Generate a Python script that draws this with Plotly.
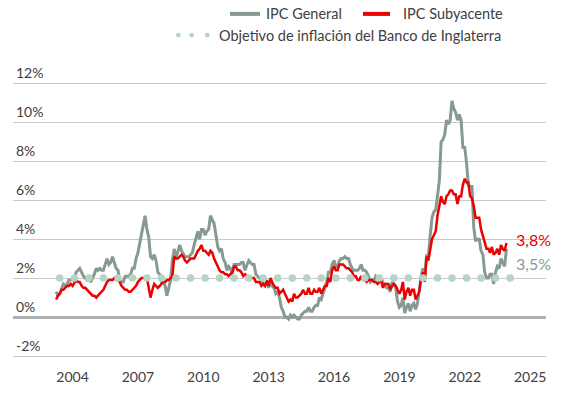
import plotly.graph_objects as go
import pandas as pd

# ---- Data (annual rate, %, monthly) ----
ipc_general = [
    1.3, 1.1, 1.2, 1.5, 1.7,
    1.6, 1.7, 1.9, 1.9, 1.9, 2.0, 2.3, 2.4, 2.5, 2.3, 2.1, 2.0,
    1.9, 2.0, 1.8, 2.0, 2.2, 2.5, 2.4, 2.5, 2.4, 2.4, 2.7, 3.0,
    2.7, 2.8, 3.1, 2.8, 2.5, 2.4, 1.9, 1.8, 1.8, 2.1, 2.1, 2.1,
    2.2, 2.5, 2.5, 3.0, 3.3, 3.8, 4.4, 4.7, 5.2, 4.5, 4.1, 3.1,
    3.0, 3.2, 2.9, 2.3, 2.2, 1.8, 1.8, 1.6, 1.1, 1.5, 1.9, 2.9,
    3.5, 3.0, 3.4, 3.7, 3.4, 3.2, 3.1, 3.1, 3.1, 3.2, 3.3, 3.7,
    4.0, 4.4, 4.0, 4.5, 4.5, 4.2, 4.4, 4.5, 5.2, 5.0, 4.8, 4.2,
    3.6, 3.4, 3.5, 3.0, 2.8, 2.4, 2.6, 2.5, 2.2, 2.7, 2.7, 2.7,
    2.7, 2.8, 2.8, 2.4, 2.7, 2.9, 2.8, 2.7, 2.7, 2.2, 2.1, 2.0,
    1.9, 1.7, 1.6, 1.8, 1.5, 1.9, 1.6, 1.5, 1.2, 1.3, 1.0, 0.5,
    0.3, 0.0, 0.0, -0.1, 0.1, 0.0, 0.1, 0.0, -0.1, -0.1, 0.1, 0.2,
    0.3, 0.3, 0.5, 0.3, 0.3, 0.5, 0.6, 0.6, 1.0, 0.9, 1.2, 1.6,
    1.8, 2.3, 2.3, 2.7, 2.9, 2.6, 2.6, 2.9, 3.0, 3.0, 3.1, 3.0,
    3.0, 2.7, 2.5, 2.4, 2.4, 2.4, 2.5, 2.7, 2.4, 2.4, 2.3, 2.1,
    1.8, 1.9, 1.9, 2.1, 2.0, 2.0, 2.1, 1.7, 1.7, 1.5, 1.5, 1.3,
    1.8, 1.7, 1.5, 0.8, 0.5, 0.6, 1.0, 0.2, 0.5, 0.7, 0.3, 0.6,
    0.7, 0.4, 0.7, 1.5, 2.1, 2.5, 2.0, 3.2, 3.1, 4.2, 5.1, 5.4,
    5.5, 6.2, 7.0, 9.0, 9.1, 9.4, 10.1, 9.9, 10.1, 11.1, 10.7, 10.5,
    10.1, 10.4, 10.1, 8.7, 8.7, 7.9, 6.8, 6.7, 6.7, 4.6, 3.9, 4.0,
    4.0, 3.4, 3.2, 2.3, 2.0, 2.0, 2.2, 2.2, 1.7, 2.3, 2.6, 2.5,
    3.0, 2.8, 2.6, 3.5,
]

ipc_subyacente = [
    0.9, 1.1, 1.2, 1.4, 1.4,
    1.5, 1.6, 1.6, 1.7, 1.6, 1.8, 1.9, 1.8, 1.8, 1.6, 1.5, 1.5,
    1.4, 1.3, 1.2, 1.1, 1.1, 1.0, 1.1, 1.2, 1.3, 1.4, 1.6, 1.8,
    1.9, 1.9, 1.9, 2.0, 1.9, 1.9, 1.8, 1.6, 1.5, 1.4, 1.4, 1.3,
    1.3, 1.4, 1.5, 1.6, 1.8, 1.9, 2.0, 2.0, 2.0, 2.0, 1.5, 1.0,
    1.4, 1.7, 1.6, 1.5, 1.6, 1.7, 1.8, 1.8, 1.9, 1.9, 2.0, 2.1,
    3.1, 3.0, 3.0, 3.1, 3.2, 3.1, 2.9, 2.8, 2.9, 3.0, 3.0, 3.0,
    3.2, 3.4, 3.5, 3.7, 3.4, 3.4, 3.3, 3.2, 3.4, 3.3, 3.0, 2.8,
    2.6, 2.4, 2.3, 2.3, 2.2, 2.2, 2.1, 2.2, 2.3, 2.6, 2.6, 2.4,
    2.4, 2.3, 2.1, 2.2, 2.1, 2.1, 2.0, 2.0, 2.0, 1.8, 1.8, 1.8,
    1.6, 1.7, 1.6, 1.9, 1.6, 2.0, 1.8, 1.6, 1.5, 1.5, 1.2, 1.3,
    1.4, 1.2, 1.0, 0.8, 0.9, 0.8, 1.2, 1.0, 1.0, 1.1, 1.2, 1.4,
    1.2, 1.2, 1.5, 1.2, 1.2, 1.4, 1.3, 1.3, 1.5, 1.2, 1.4, 1.6,
    1.6, 2.0, 1.8, 2.4, 2.6, 2.4, 2.4, 2.7, 2.7, 2.7, 2.6, 2.5,
    2.5, 2.4, 2.3, 2.1, 2.1, 1.9, 1.9, 2.1, 1.9, 1.9, 1.8, 1.9,
    1.9, 1.9, 1.8, 1.8, 1.7, 1.8, 1.9, 1.5, 1.7, 1.7, 1.7, 1.4,
    1.6, 1.7, 1.6, 1.4, 1.2, 1.4, 1.8, 0.9, 1.3, 1.5, 1.1, 1.4,
    1.4, 0.9, 1.1, 1.3, 2.0, 2.3, 1.8, 3.1, 2.9, 3.4, 4.0, 4.2,
    4.4, 5.2, 5.7, 6.2, 5.9, 5.8, 6.2, 6.3, 6.5, 6.5, 6.3, 6.3,
    5.8, 6.2, 6.2, 6.8, 7.1, 6.9, 6.9, 6.2, 6.1, 5.7, 5.1, 5.1,
    5.1, 4.5, 4.2, 3.9, 3.5, 3.5, 3.3, 3.6, 3.2, 3.3, 3.5, 3.2,
    3.7, 3.5, 3.4, 3.8,
]

# monthly dates on the chart's own time axis
fechas = pd.date_range("2003-04-01", periods=len(ipc_general), freq="MS")
objetivo_fechas = pd.date_range("2003-06-01", periods=32, freq="8MS")
objetivo = [2.0] * len(objetivo_fechas)

y_tickvals = [-2, 0, 2, 4, 6, 8, 10, 12]
y_ticktext = ["-2%", "0%", "2%", "4%", "6%", "8%", "10%", "12%"]

nombre_general = "IPC General"
nombre_sub = "IPC Subyacente"
nombre_obj = "Objetivo de inflación del Banco de Inglaterra"
etiqueta_sub = "3,8%"
etiqueta_general = "3,5%"

# ---- Styles ----
GRIS = "#879a91"
ROJO = "#ec0000"
VERDE = "#b6d4c4"
TEXTO = "#404040"
FONT = "Lato, 'Open Sans', sans-serif"

W, H = 569, 397
L, R, T, B = 13, 546, 54, 367
Y_MIN, Y_MAX = -2.1, 13.5


def px_x(px):
    return (px - L) / (R - L)


def px_y(py):
    return (B - py) / (B - T)


fig = go.Figure()
fig.add_trace(go.Scatter(x=fechas, y=ipc_general, mode="lines", name=nombre_general,
                         line=dict(color=GRIS, width=3), showlegend=False))
fig.add_trace(go.Scatter(x=fechas, y=ipc_subyacente, mode="lines", name=nombre_sub,
                         line=dict(color=ROJO, width=2.5), showlegend=False))
fig.add_trace(go.Scatter(x=objetivo_fechas, y=objetivo, mode="markers", name=nombre_obj,
                         marker=dict(color=VERDE, size=7.5), showlegend=False))

# ---- Manual legend ----
shapes = [
    dict(type="line", xref="paper", yref="paper", x0=px_x(230), x1=px_x(260),
         y0=px_y(12.7), y1=px_y(12.7), line=dict(color=GRIS, width=4)),
    dict(type="line", xref="paper", yref="paper", x0=px_x(363), x1=px_x(390),
         y0=px_y(12.7), y1=px_y(12.7), line=dict(color=ROJO, width=4)),
]
for cx in (178.3, 191.7, 207.3):
    shapes.append(dict(type="circle", xref="paper", yref="paper",
                       x0=px_x(cx - 2.4), x1=px_x(cx + 2.4),
                       y0=px_y(34.5 + 2.4), y1=px_y(34.5 - 2.4),
                       fillcolor=VERDE, line=dict(width=0)))

annotations = [
    dict(text=nombre_general, xref="paper", yref="paper", x=px_x(264), y=px_y(12.7),
         xanchor="left", yanchor="middle", showarrow=False,
         font=dict(family=FONT, size=14.5, color=TEXTO)),
    dict(text=nombre_sub, xref="paper", yref="paper", x=px_x(401), y=px_y(12.7),
         xanchor="left", yanchor="middle", showarrow=False,
         font=dict(family=FONT, size=14.5, color=TEXTO)),
    dict(text=nombre_obj, xref="paper", yref="paper", x=px_x(217), y=px_y(34.5),
         xanchor="left", yanchor="middle", showarrow=False,
         font=dict(family=FONT, size=14.5, color=TEXTO)),
    dict(text=etiqueta_sub, x=fechas[-1], y=ipc_subyacente[-1], xanchor="left",
         yanchor="middle", xshift=8, yshift=4, showarrow=False,
         font=dict(family=FONT, size=16, color=ROJO)),
    dict(text=etiqueta_general, x=fechas[-1], y=ipc_general[-1], xanchor="left",
         yanchor="middle", xshift=8, yshift=-14.5, showarrow=False,
         font=dict(family=FONT, size=16, color=GRIS)),
]

fig.update_layout(
    width=W, height=H,
    margin=dict(l=L, r=W - R, t=T, b=H - B, pad=0),
    paper_bgcolor="white", plot_bgcolor="white",
    shapes=shapes, annotations=annotations,
    xaxis=dict(type="date", range=["2001-04-08", "2025-09-24"],
               tick0="2004-01-01", dtick="M36", tickformat="%Y",
               showgrid=False, zeroline=False, showline=False,
               ticks="outside", ticklen=6, tickcolor="rgba(0,0,0,0)",
               tickfont=dict(family=FONT, size=14, color=TEXTO)),
    yaxis=dict(range=[Y_MIN, Y_MAX], tickvals=y_tickvals, ticktext=y_ticktext,
               ticklabelposition="inside top", showline=False,
               gridcolor="#c9c9c9", gridwidth=1.3,
               zeroline=True, zerolinecolor="#b0b0b0", zerolinewidth=3,
               tickfont=dict(family=FONT, size=14, color=TEXTO)),
    showlegend=False,
)

fig.write_html(
    "out.html",
    config={"displayModeBar": False},
    post_script="document.body.style.margin='0';document.documentElement.style.overflow='hidden';",
)
